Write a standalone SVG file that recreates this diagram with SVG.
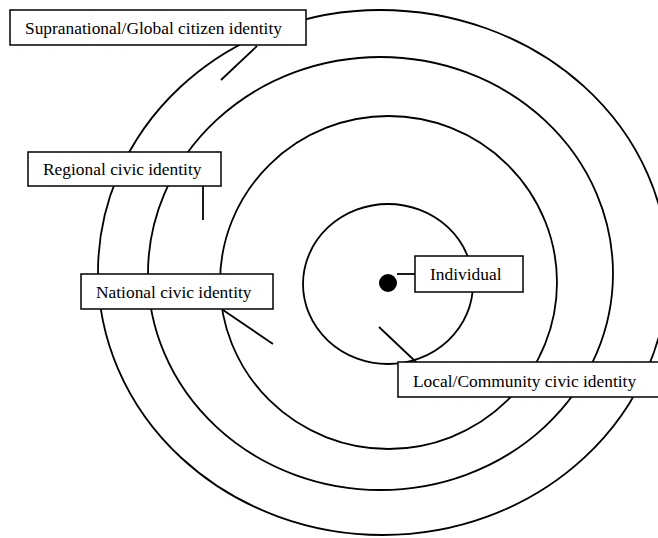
<svg xmlns="http://www.w3.org/2000/svg" width="658" height="538" viewBox="0 0 658 538">
<style>
.ring{fill:none;stroke:#000;stroke-width:1.8}
.box{fill:#fff;stroke:#000;stroke-width:1.5}
.lbl{font-family:"Liberation Serif","Times New Roman",serif;font-size:17.4px;fill:#000}
.con{stroke:#000;stroke-width:1.8;fill:none}
</style>
<rect width="658" height="538" fill="#fff"/>
<g id="rings">
<path id="ring-global" class="ring" d="M98,272 A282,262 0 0 1 380,10 A288,260 0 0 1 668,270 A285,265 0 0 1 383,535 A285,263 0 0 1 98,272 Z"/>
<ellipse id="ring-regional" class="ring" cx="380.5" cy="273.5" rx="232.5" ry="216.5"/>
<ellipse id="ring-national" class="ring" cx="388.5" cy="282.5" rx="168.5" ry="166.5"/>
<ellipse id="ring-local" class="ring" cx="388" cy="284" rx="85" ry="80"/>
</g>
<g id="connectors">
<line class="con" x1="257" y1="46" x2="221" y2="80"/>
<line class="con" x1="203" y1="186" x2="203" y2="220"/>
<line class="con" x1="223" y1="310" x2="273" y2="344"/>
<line class="con" x1="397" y1="274" x2="415" y2="274"/>
<line class="con" x1="379" y1="327" x2="416" y2="362"/>
</g>
<g id="individual-dot"><circle cx="388" cy="283" r="9" fill="#000"/></g>
<g id="label-global">
<rect class="box" x="10" y="10" width="296" height="35"/>
<text class="lbl" x="25" y="34">Supranational/Global citizen identity</text>
</g>
<g id="label-regional">
<rect class="box" x="28" y="152" width="193" height="34"/>
<text class="lbl" x="43" y="175">Regional civic identity</text>
</g>
<g id="label-national">
<rect class="box" x="81" y="274" width="192" height="35"/>
<text class="lbl" x="96" y="298">National civic identity</text>
</g>
<g id="label-individual">
<rect class="box" x="415" y="256" width="108" height="36"/>
<text class="lbl" x="430" y="280">Individual</text>
</g>
<g id="label-local">
<rect class="box" x="398" y="362" width="264" height="35"/>
<text class="lbl" x="413" y="387">Local/Community civic identity</text>
</g>
</svg>
